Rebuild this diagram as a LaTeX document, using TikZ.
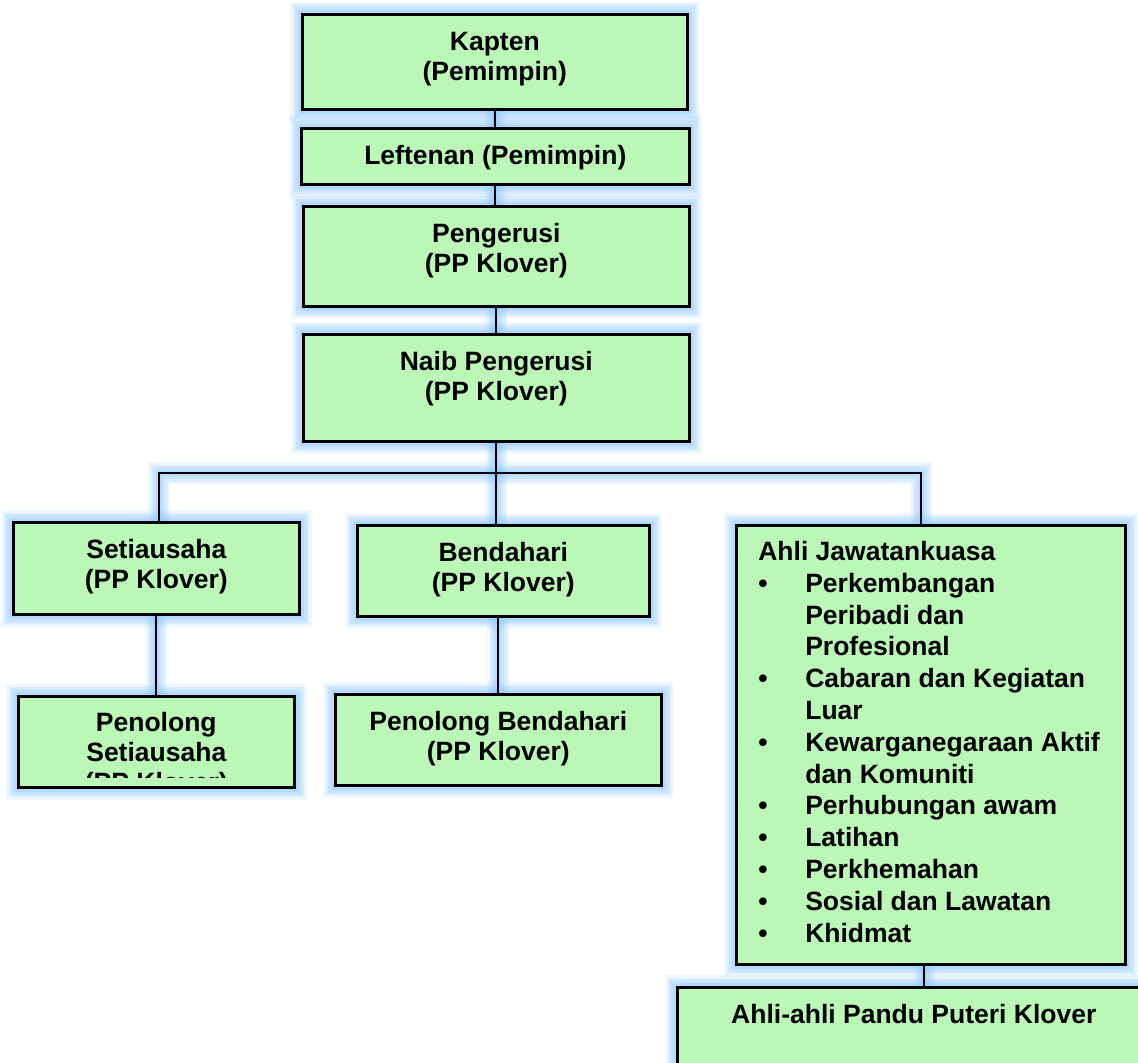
\documentclass[tikz,border=0pt]{standalone}
\usepackage{fontspec}
\setmainfont{Liberation Sans}
\usetikzlibrary{positioning}

\definecolor{hijau}{RGB}{187,247,183}
\definecolor{cahaya}{RGB}{140,198,250}

\pgfdeclarelayer{glow}
\pgfsetlayers{glow,main}

% text block of a box: fixed size, text from the top
\newcommand\isi[3]{\parbox[c][#2][t]{#1}{\centering\vspace*{8.2pt}\rule{0pt}{9.8pt}#3}}
\newcommand\butir[1]{\par\hangindent=23.5pt\hangafter=1\noindent\makebox[23.5pt][l]{\textbullet}#1\par}

\tikzset{
  kotak/.style = {draw = black, fill = hijau, line width = 1.3pt, inner sep = 0pt, anchor = north west},
  garis/.style = {draw = black, line width = 1pt},
  sinar/.style = {draw = cahaya, line width = 3pt, draw opacity = 0.3, line join = round, line cap = round,
                  preaction = {draw = cahaya, line width = 11pt, draw opacity = 0.14},
                  preaction = {draw = cahaya, line width = 8.5pt, draw opacity = 0.2},
                  preaction = {draw = cahaya, line width = 6pt, draw opacity = 0.25}}
}

\begin{document}
\begin{tikzpicture}[x = 0.5pt, y = -0.5pt, font = \fontsize{13.25}{15}\selectfont\bfseries]
    \useasboundingbox (0,0) rectangle (1138,1063);
    \clip (0,0) rectangle (1138,1063);

    \node [kotak] (kapten)     at (301,13)  {\isi{192.5pt}{47.5pt}{Kapten\\(Pemimpin)}};
    \node [kotak] (leftenan)   at (300,127) {\isi{194pt}{28pt}{Leftenan (Pemimpin)}};
    \node [kotak] (pengerusi)  at (302,205) {\isi{193pt}{50pt}{Pengerusi\\(PP Klover)}};
    \node [kotak] (naib)       at (302,333) {\isi{193pt}{53.5pt}{Naib Pengerusi\\(PP Klover)}};

    \node [kotak] (setia)      at (12,521)  {\isi{143pt}{46pt}{Setiausaha\\(PP Klover)}};
    \node [kotak] (bendahari)  at (356,524) {\isi{146pt}{45.5pt}{Bendahari\\(PP Klover)}};
    \node [kotak] (pSetia)     at (17,695)  {\isi{138pt}{45.5pt}{}};
    \node [kotak] (pBendahari) at (334,693) {\isi{163pt}{45.5pt}{Penolong Bendahari\\(PP Klover)}};

    \node [kotak] (ahli) at (735,524) {\parbox[c][219.5pt][t]{194.5pt}{%
        \fontsize{13.25}{15.9}\selectfont
        \parindent=0pt \rightskip=0pt plus 1fil \leftskip=11pt
        \vspace*{8pt}\rule{0pt}{9.5pt}Ahli Jawatankuasa\par
        \butir{Perkembangan\newline Peribadi dan\newline Profesional}
        \butir{Cabaran dan Kegiatan\newline Luar}
        \butir{Kewarganegaraan Aktif\newline dan Komuniti}
        \butir{Perhubungan awam}
        \butir{Latihan}
        \butir{Perkhemahan}
        \butir{Sosial dan Lawatan}
        \butir{Khidmat}}};
    \node [kotak] (anggota) at (676,986) {\isi{236.5pt}{60pt}{Ahli-ahli Pandu Puteri Klover}};

    % third line cut off by the box
    \begin{scope}
        \clip (pSetia.north west) rectangle ([yshift = 5.5pt]pSetia.south east);
        \node [inner sep = 0pt, anchor = north] (pSetiaTeks) at (pSetia.north)
            {\isi{138pt}{45.5pt}{Penolong\\Setiausaha\\(PP Klover)}};
    \end{scope}

    \coordinate (cabang) at (496,473);

    \begin{pgfonlayer}{glow}
        \foreach \n in {kapten, leftenan, pengerusi, naib, setia, bendahari, pSetia, pBendahari, ahli, anggota}
            \draw [sinar] (\n.north west) rectangle (\n.south east);

        \foreach \gaya in {sinar, garis} {
            \draw [\gaya] (kapten.south) -- (kapten.south |- leftenan.north);
            \draw [\gaya] (leftenan.south) -- (leftenan.south |- pengerusi.north);
            \draw [\gaya] (pengerusi.south) -- (pengerusi.south |- naib.north);
            \draw [\gaya] (naib.south) -- (naib.south |- bendahari.north);
            \draw [\gaya] ([xshift = 1.5pt]setia.north) |- (cabang) -| ([xshift = -4.75pt]ahli.north);
            \draw [\gaya] (setia.south) -- (setia.south |- pSetia.north);
            \draw [\gaya] (pBendahari.north |- bendahari.south) -- (pBendahari.north);
            \draw [\gaya] ([xshift = -3.25pt]ahli.south) -- ([xshift = -3.25pt]ahli.south |- anggota.north);
        }
    \end{pgfonlayer}
\end{tikzpicture}
\end{document}
